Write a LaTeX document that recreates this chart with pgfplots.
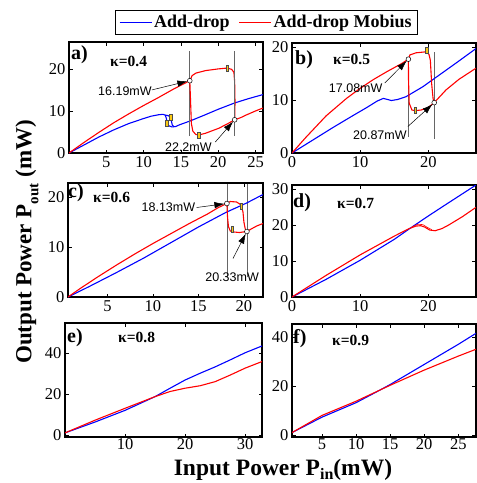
\documentclass[border=0pt]{standalone}
\usepackage{fontspec}
\setmainfont{Liberation Serif}
\newfontfamily\sansf{Liberation Sans}
\usepackage{pgfplots}
\pgfplotsset{compat=1.18}
\usetikzlibrary{arrows.meta}
\definecolor{mkyellow}{RGB}{250,200,20}
\pgfplotsset{
  panel/.style={scale only axis, anchor=north west,
    axis line style={line width=1.3pt}, tick style={line width=0.7pt, black},
    major tick length=3.5pt, tick pos=both, tick align=inside,
    tick label style={font=\fontsize{16.5}{16.5}\selectfont},
    /pgf/number format/assume math mode=true,
    clip mode=individual,
    every axis plot/.append style={line width=1.1pt}},
  vline/.style={color=black!60, line width=0.7pt, forget plot},
  circ/.style={only marks, mark=*, mark size=2.4pt, mark options={fill=white, draw=black, line width=0.5pt}, forget plot},
  ymk/.style={only marks, mark=square*, mark size=3pt, mark options={fill=mkyellow, draw=black!70, line width=0.4pt, xscale=0.45}, forget plot},
  bl/.style={color=blue, line width=1.1pt},
  rd/.style={color=red, line width=1.1pt},
}
\tikzset{ann/.style={font=\sansf\fontsize{12.5}{12.5}\selectfont, inner sep=0pt},
  arr/.style={-{Latex[length=10pt,width=6.5pt]}, line width=0.5pt, black, shorten >=2.5pt},
  plab/.style={anchor=west, inner sep=0pt, font=\bfseries\fontsize{20}{20}\selectfont},
  klab/.style={anchor=west, inner sep=0pt, font=\bfseries\fontsize{15.5}{15.5}\selectfont}}
\begin{document}
\begin{tikzpicture}
\path[use as bounding box] (0pt,0pt) rectangle (477pt,-483pt);
% ---------- a ----------
\begin{axis}[panel, at={(69pt,-42pt)}, width=194pt, height=111pt,
  xmin=0, xmax=26, ymin=0, ymax=26.4, xtick={5,10,15,20,25}, ytick={0,10,20},
  legend style={at={(1.018,1.176)}, anchor=center, draw=black, line width=0.8pt,
    font=\bfseries\fontsize{18}{18}\selectfont, legend columns=2, inner xsep=4pt, inner ysep=3pt,
    /tikz/every even column/.append style={column sep=7pt}},
  legend image code/.code={\draw[#1, line width=0.8pt] (0pt,0pt) -- (32pt,0pt);}]
\addplot[bl] coordinates {(0,0) (2,1.9) (4,3.8) (6,5.5) (8,7.0) (10,8.2) (11,8.75) (12,9.1) (12.6,9.2) (12.9,9.0) (13.05,8.2) (13.15,7.2) (13.35,6.5) (13.8,6.2) (14.3,6.3) (14.8,6.7) (16.2,7.6) (18,8.9) (20,10.4) (22.2,11.9) (24,12.9) (26,13.9)};
\addlegendentry{Add-drop}
\addplot[rd] coordinates {(0,0) (2,2.5) (4,4.9) (6,7.2) (8,9.3) (10,11.3) (12,13.2) (14,15.2) (16.19,17.2) (16.5,18.4) (17,19.0) (18.3,19.6) (20,20.0) (21.2,20.2) (21.8,19.9) (22.1,19.2) (22.2,17) (22.25,12) (22.2,7.9) (23,8.4) (23.7,9.0) (25,10.0) (26,10.7)};
\addlegendentry{Add-drop Mobius}
\addplot[vline] coordinates {(16.19,4) (16.19,24.2)};
\addplot[vline] coordinates {(22.2,4) (22.2,24.2)};
\addplot[bl, forget plot] coordinates {(12.9,9.0) (13.3,8.9) (13.55,8.6) (13.7,7.8) (13.85,6.6) (14.1,6.25)};
\addplot[rd, forget plot] coordinates {(16.19,17.2) (16.3,12) (16.4,7) (16.6,5.2) (17.0,4.4) (17.4,4.3) (18.3,4.7) (20.1,5.9) (21.4,7.1) (22.2,7.9)};
\addplot[ymk] coordinates {(13.1,7.2) (13.65,8.5) (21.2,20.2) (17.4,4.3)};
\addplot[circ] coordinates {(16.19,17.2) (22.2,7.9)};
\node[ann] at (axis cs:7.5,14.8) {16.19mW};
\draw[arr] (axis cs:11.1,15.0) -- (axis cs:16.19,17.2);
\node[ann] at (axis cs:16,1.4) {22.2mW};
\draw[arr] (axis cs:19.6,2.6) -- (axis cs:22.2,7.9);
\end{axis}
% ---------- b ----------
\begin{axis}[panel, at={(292pt,-43pt)}, width=184pt, height=110pt,
  xmin=0, xmax=27, ymin=0, ymax=20.75, xtick={0,10,20}, ytick={0,10,20}]
\addplot[vline] coordinates {(17.08,3) (17.08,17.7)};
\addplot[vline] coordinates {(20.87,2.7) (20.87,19.0)};
\addplot[bl] coordinates {(0,0) (3,2.4) (6,4.8) (9,7.1) (11,8.6) (12.5,9.8) (13.4,10.3) (14,10.1) (14.6,9.9) (15.5,10.1) (16.7,10.6) (19.2,12.5) (21.6,14.7) (24,16.9) (27,19.7)};
\addplot[rd] coordinates {(0,0) (2,2.9) (5,7.0) (8,10.3) (10,12.2) (12,13.9) (14,15.4) (16,16.8) (17.08,17.7) (17.3,18.5) (18.2,18.9) (19.75,19.1) (20.1,18.6) (20.3,17.5) (20.5,13) (20.7,10.3) (20.87,9.5) (22.6,11.9) (24.5,13.9) (27,16.0)};
\addplot[rd] coordinates {(17.08,17.7) (17.1,13.8) (17.2,9.4) (17.6,8.1) (18.1,8.0) (18.9,8.1) (19.9,8.5) (20.87,9.5)};
\addplot[ymk] coordinates {(19.75,19.3) (18.1,8.0)};
\addplot[circ] coordinates {(17.08,17.7) (20.87,9.5)};
\node[ann] at (axis cs:9.35,12.2) {17.08mW};
\draw[arr] (axis cs:13.6,13.2) -- (axis cs:17.08,17.7);
\node[ann] at (axis cs:12.9,3.4) {20.87mW};
\draw[arr] (axis cs:17.0,5.0) -- (axis cs:20.87,9.5);
\end{axis}
% ---------- c ----------
\begin{axis}[panel, at={(68pt,-183pt)}, width=195pt, height=114pt,
  xmin=0.66, xmax=22.1, ymin=0, ymax=22.8, xtick={5,10,15,20}, ytick={0,10,20}]
\addplot[vline] coordinates {(18.13,4) (18.13,22.7)};
\addplot[vline] coordinates {(20.33,4) (20.33,22.7)};
\addplot[bl] coordinates {(0.66,0) (3,2.1) (6,4.9) (9,7.8) (12,10.9) (15,14.0) (18,16.9) (20.3,18.8) (22.1,20.5)};
\addplot[rd] coordinates {(0.66,0) (2,1.7) (4,4.1) (6,6.4) (8,8.6) (10,10.7) (12,12.7) (14,14.7) (16,16.6) (17.2,17.9) (18.13,18.7) (18.5,19.1) (19.2,19.0) (19.7,18.4) (19.9,17) (20.0,15) (20.15,13.6) (20.33,13.1) (20.8,13.6) (21.4,14.2) (22.1,14.7)};
\addplot[rd] coordinates {(18.13,18.7) (18.2,16) (18.3,14.1) (18.5,13.2) (18.9,13.0) (19.5,12.9) (20.33,13.1)};
\addplot[ymk] coordinates {(19.7,18.2) (18.7,13.6)};
\addplot[circ] coordinates {(18.13,18.7) (20.33,13.1)};
\node[ann] at (axis cs:11.7,17.9) {18.13mW};
\draw[arr] (axis cs:14.8,17.9) -- (axis cs:18.13,18.7);
\node[ann] at (axis cs:18.7,3.9) {20.33mW};
\draw[arr] (axis cs:18.8,7.7) -- (axis cs:20.33,13.1);
\end{axis}
% ---------- d ----------
\begin{axis}[panel, at={(292pt,-185pt)}, width=184pt, height=112pt,
  xmin=0, xmax=27, ymin=0, ymax=31.1, xtick={0,10,20}, ytick={0,10,20,30}]
\addplot[bl] coordinates {(0,0) (5,4.9) (10,10.2) (15,16.0) (17.5,19.3) (20,22.5) (23,26.2) (27,31.1)};
\addplot[rd] coordinates {(0,0) (5,6.0) (10,11.7) (15,16.9) (17.2,19.0) (18.2,19.7) (18.9,19.8) (19.5,19.4) (20.2,18.6) (21,18.4) (22,19.0) (23,20.0) (25,22.3) (27,24.9)};
\addplot[rd, line width=0.6pt] coordinates {(17.6,19.5) (18.5,20.2) (19.2,20.1) (19.8,19.4) (20.5,18.7)};
\end{axis}
% ---------- e ----------
\begin{axis}[panel, at={(65pt,-323pt)}, width=197pt, height=114pt,
  xmin=0, xmax=32.8, ymin=-1, ymax=54.6, xtick={10,20,30}, ytick={0,20,40},
  xticklabel style={yshift=2pt}]
\addplot[bl] coordinates {(0,1) (5,6.3) (10,12.0) (15,18.7) (17.5,22.8) (20,26.8) (22.5,30.1) (25,33.2) (27.5,36.6) (30,40.1) (32.8,43.4)};
\addplot[rd] coordinates {(0,1) (5,7.2) (10,13.0) (15,18.7) (17.5,21.2) (20,22.8) (22.5,24.0) (25,26.0) (27.5,29.2) (30,32.6) (32.8,35.8)};
\end{axis}
% ---------- f ----------
\begin{axis}[panel, at={(292pt,-324pt)}, width=184pt, height=113pt,
  xmin=0.6, xmax=27.6, ymin=-0.8, ymax=45.3, xtick={5,10,15,20,25}, ytick={0,20,40},
  xticklabel style={yshift=2pt}]
\addplot[bl] coordinates {(0.6,1) (5,7.3) (10,13.2) (13,17.6) (15,20.6) (20,28.8) (25,37.0) (27.6,41.5)};
\addplot[rd] coordinates {(0.6,1) (5,8.0) (10,13.8) (13,17.7) (15,20.3) (20,26.5) (25,32.2) (27.6,35.0)};
\end{axis}
% ---------- labels ----------
\node[plab] at (71pt,-55pt) {a)};   \node[klab] at (110pt,-61pt) {κ=0.4};
\node[plab] at (295pt,-60pt) {b)};  \node[klab] at (333pt,-59pt) {κ=0.5};
\node[plab] at (68pt,-193pt) {c)};  \node[klab] at (93pt,-197pt) {κ=0.6};
\node[plab] at (293pt,-203pt) {d)}; \node[klab] at (337pt,-203pt) {κ=0.7};
\node[plab] at (67pt,-338pt) {e)};  \node[klab] at (118pt,-337pt) {κ=0.8};
\node[plab] at (293pt,-339pt) {f)}; \node[klab] at (332pt,-340pt) {κ=0.9};
\node[rotate=90, font=\bfseries\fontsize{23}{23}\selectfont, inner sep=0pt] at (27pt,-242pt) {Output Power P\raisebox{-0.3em}{\fontsize{15}{15}\selectfont out} (mW)};
\node[anchor=base, font=\bfseries\fontsize{23.5}{23.5}\selectfont, inner sep=0pt] at (283pt,-475pt) {Input Power P\raisebox{-0.2em}{\fontsize{16}{16}\selectfont in}(mW)};
\end{tikzpicture}
\end{document}
